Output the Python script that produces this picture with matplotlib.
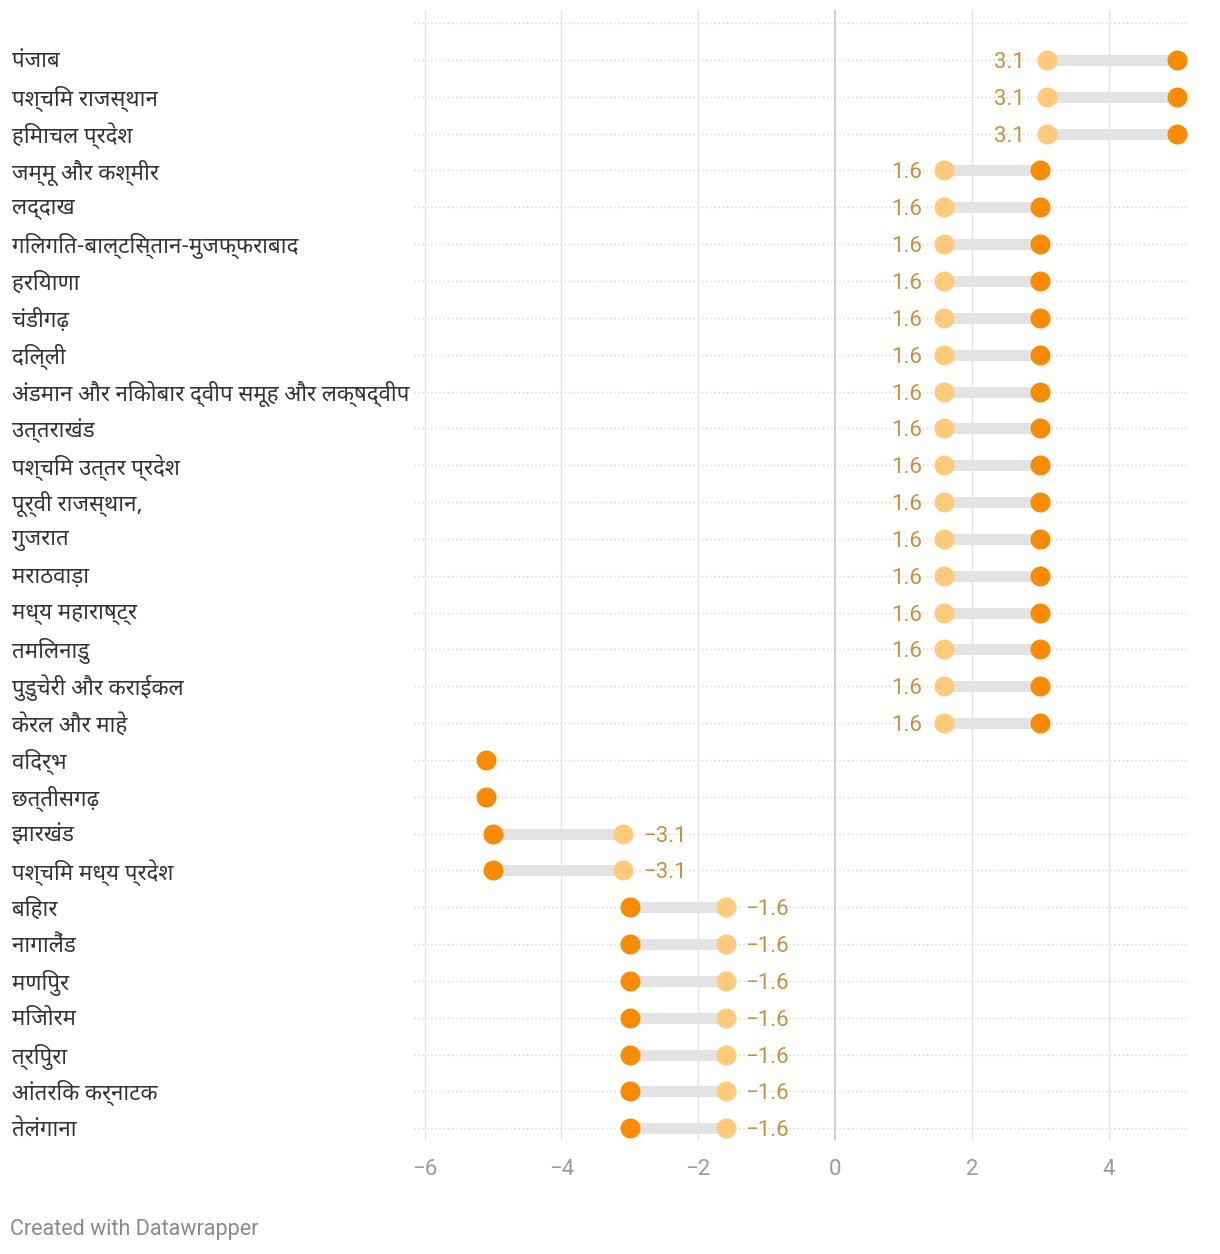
import numpy as np
import matplotlib
matplotlib.use('Agg')
import matplotlib.pyplot as plt
from matplotlib import transforms

plt.rcParams['axes.unicode_minus'] = True

deva = ['Noto Sans Devanagari', 'Noto Sans Devanagari UI', 'Hind', 'DejaVu Sans']
num_font = ['Roboto', 'DejaVu Sans']

regions = [
    "पंजाब",
    "पश्चिम राजस्थान",
    "हिमाचल प्रदेश",
    "जम्मू और कश्मीर",
    "लद्दाख",
    "गिलगित-बाल्टिस्तान-मुजफ्फराबाद",
    "हरियाणा",
    "चंडीगढ़",
    "दिल्ली",
    "अंडमान और निकोबार द्वीप समूह और लक्षद्वीप",
    "उत्तराखंड",
    "पश्चिम उत्तर प्रदेश",
    "पूर्वी राजस्थान,",
    "गुजरात",
    "मराठवाड़ा",
    "मध्य महाराष्ट्र",
    "तमिलनाडु",
    "पुडुचेरी और कराईकल",
    "केरल और माहे",
    "विदर्भ",
    "छत्तीसगढ़",
    "झारखंड",
    "पश्चिम मध्य प्रदेश",
    "बिहार",
    "नागालैंड",
    "मणिपुर",
    "मिजोरम",
    "त्रिपुरा",
    "आंतरिक कर्नाटक",
    "तेलंगाना",
]

# light dot (labelled) and dark dot values
start_vals = [3.1] * 3 + [1.6] * 16 + [np.nan, np.nan] + [-3.1] * 2 + [-1.6] * 7
end_vals = [5.0] * 3 + [3.0] * 16 + [-5.1, -5.1] + [-5.0] * 2 + [-3.0] * 7

x_ticks = [-6, -4, -2, 0, 2, 4]

c_light = "#ffca7a"
c_dark = "#f98b00"
c_bar = "#e3e3e3"
c_val = "#c9913f"
c_grid = "#e2e2e2"

fig = plt.figure(figsize=(12.2, 12.54), dpi=100)
ax = fig.add_axes([414 / 1220, 1 - 1140 / 1254, 774 / 1220, 1130 / 1254])

n = len(regions)
y = np.arange(n)
start = np.array(start_vals)
end = np.array(end_vals)

# grid
for t in x_ticks:
    ax.axvline(t, color="#c8c8c8" if t == 0 else c_grid, lw=1.2 if t == 0 else 1.0, zorder=0)
for yy in range(-1, n):
    ax.axhline(yy, color="#d6d6d6", lw=1.0, ls=(0, (1, 2)), zorder=0)

# bars + dots
for i in range(n):
    if not np.isnan(start[i]):
        ax.plot([start[i], end[i]], [y[i], y[i]], color=c_bar, lw=8, solid_capstyle="butt", zorder=1)
        ax.plot(start[i], y[i], "o", ms=14.4, color=c_light, mec="none", zorder=2)
        if start[i] > 0:
            ax.annotate(f"{start[i]:.1f}", (start[i], y[i]), xytext=(-22, -8), textcoords="offset pixels",
                        ha="right", va="baseline", fontsize=16, color=c_val, family=num_font)
        else:
            ax.annotate(f"\u2212{abs(start[i]):.1f}", (start[i], y[i]), xytext=(20, -8), textcoords="offset pixels",
                        ha="left", va="baseline", fontsize=16, color=c_val, family=num_font)
    ax.plot(end[i], y[i], "o", ms=14.4, color=c_dark, mec="none", zorder=3)

ax.set_xlim(-6.155, 5.16)
ax.set_ylim(29.32, -1.357)
ax.set_xticks(x_ticks)
ax.set_xticklabels([f"\u2212{abs(t)}" if t < 0 else str(t) for t in x_ticks],
                   family=num_font, fontsize=16, color="#9a9a9a")
ax.tick_params(axis="x", length=0, pad=14)
ax.set_yticks([])
for s in ax.spines.values():
    s.set_visible(False)

# row labels
trans = transforms.blended_transform_factory(fig.transFigure, ax.transData)
trans = transforms.offset_copy(trans, fig=fig, y=-2, units="dots")
for i, name in enumerate(regions):
    ax.text(12 / 1220, y[i], name, transform=trans, ha="left", va="center",
            fontsize=16, color="#333333", family=deva, clip_on=False, zorder=5)

fig.text(10 / 1220, 1 - 1230 / 1254, "Created with Datawrapper", ha="left", va="center",
         fontsize=15.5, color="#8a8a8a", family=num_font)

fig.savefig("out.png", dpi=100)
